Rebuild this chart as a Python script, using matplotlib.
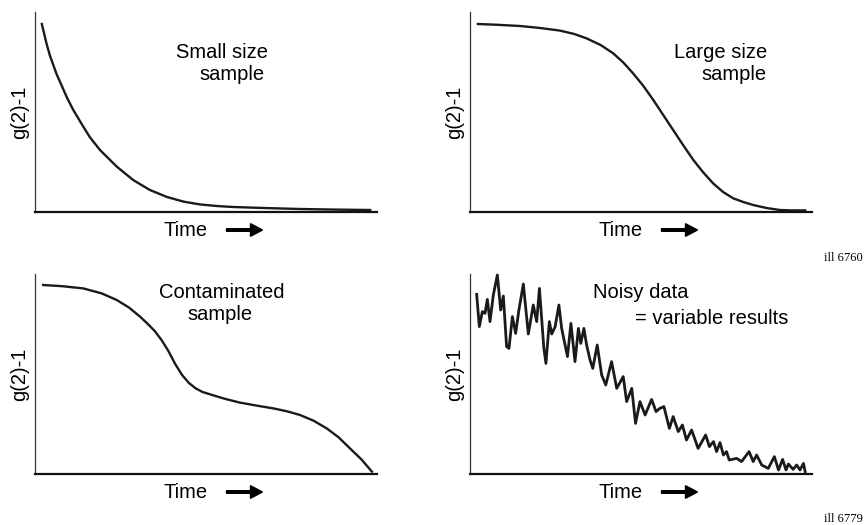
import matplotlib
matplotlib.use("Agg")
import matplotlib.pyplot as plt
from matplotlib.patches import FancyArrow

W, H = 865, 525

# curves (x: 0-100 along time axis, y: 0-100 of g(2)-1)
small_x = [2.0, 3.4, 4.4, 6.3, 9.4, 11.2, 14.0, 16.0, 19.0, 23.9, 28.7, 33.6, 38.6,
           43.4, 48.2, 53.1, 57.9, 67.0, 77.5, 88.0, 98.0]
small_y = [94, 84, 78, 69, 57, 51, 43, 37.5, 31, 22.7, 16, 11, 7.5,
           5.2, 3.8, 3.0, 2.5, 2.0, 1.5, 1.2, 1.0]

large_x = [2.3, 8.0, 14.6, 20.5, 26.3, 30.5, 34.1, 38.2, 41.9, 44.8, 47.7, 50.7, 53.6,
           56.5, 59.4, 62.3, 65.3, 68.2, 71.1, 74.0, 77.0, 79.9, 82.8, 86.7, 90.6, 94.0, 98.0]
large_y = [94, 93.6, 93, 92, 90.7, 89, 86.8, 83.5, 79.3, 74.8, 69.3, 63, 56,
           48.5, 41, 33.5, 26, 19.8, 14.3, 10.0, 6.8, 5.0, 3.5, 2.0, 1.0, 0.8, 0.8]

cont_x = [2.4, 8.0, 14.1, 19.5, 23.9, 27.5, 30.7, 33.0, 35.0, 37.0, 39.0, 41.0, 43.0,
          45.0, 47.0, 49.0, 52.0, 55.5, 59.9, 64.8, 69.7, 73.8, 77.5, 81.5, 85.3, 88.8,
          92.1, 95.5, 98.5]
cont_y = [94.5, 93.9, 92.8, 90.3, 87, 83.2, 78.7, 75.0, 71.5, 67, 61.5, 55, 49.5,
          45.5, 42.8, 41.0, 39.4, 37.6, 35.7, 34.2, 32.8, 31.3, 29.5, 26.6, 22.8, 18.3,
          12.8, 7.2, 1.2]

noisy_x = [1.95, 2.73, 3.61, 4.39, 5.07, 5.85, 6.82, 8.0, 8.97, 9.75, 10.7, 11.4, 12.4,
           13.35, 14.3, 15.6, 17.05, 18.5, 19.5, 20.3, 21.6, 22.2, 23.2, 23.9, 24.9, 26.0,
           26.8, 28.5, 29.5, 30.7, 31.7, 32.4, 33.3, 34.1, 35.1, 35.9, 37.2, 38.5, 39.7,
           41.4, 42.9, 44.8, 45.8, 47.3, 48.4, 49.7, 51.2, 53.1, 54.4, 55.5, 56.7, 58.3,
           59.4, 60.9, 62.1, 63.3, 64.8, 66.7, 68.9, 70.0, 71.2, 72.1, 73.1, 74.1, 75.0,
           75.8, 78.0, 79.4, 81.6, 82.8, 83.8, 85.3, 87.2, 89.0, 90.2, 91.4, 92.4, 93.1,
           94.5, 95.5, 96.5, 97.5, 98.0]
noisy_y = [89.8, 73.7, 81.2, 80.3, 87.3, 76.2, 89.5, 99.5, 82, 89, 63.7, 62.8, 78.7,
           70.3, 82, 95, 70, 84.5, 76.2, 92.8, 62.8, 55.3, 76.2, 70, 73.7, 84.5,
           72.8, 58.7, 75.3, 56.2, 72.8, 65.3, 72.8, 64.5, 57, 52.8, 64.5, 49.5, 44.5,
           56.2, 42.8, 48.7, 36.2, 42.8, 25.3, 36.2, 29.5, 37.3, 31.2, 32.8, 33.7, 22.8,
           28.7, 21.2, 24.5, 17, 22, 12.8, 19.5, 13.7, 16.2, 11.2, 15.7, 9.5, 11.2,
           7, 7.8, 6.2, 11.2, 6.2, 9.5, 4.5, 2.8, 8.7, 2, 7.3, 2, 5,
           2.3, 4.5, 2, 5.3, 1.2]

panels = [
    # (left, top, right, bottom) in pixels, data, line width
    ((35, 12, 377, 212), small_x, small_y, 1.7),
    ((470, 12, 812, 212), large_x, large_y, 1.7),
    ((35, 274, 377, 474), cont_x, cont_y, 1.7),
    ((470, 274, 812, 474), noisy_x, noisy_y, 2.0),
]


def fx(px):
    return px / W


def fy(py):
    return 1 - py / H


plt.rcParams['font.family'] = ['Liberation Sans', 'DejaVu Sans']
fig = plt.figure(figsize=(W / 100, H / 100), dpi=100)
fs = 14.5

for (l, t, r, b), xs, ys, lw in panels:
    ax = fig.add_axes([fx(l), fy(b), (r - l) / W, (b - t) / H])
    ax.plot(xs, ys, color='#1a1a1a', lw=lw, clip_on=False)
    ax.set_xlim(0, 100)
    ax.set_ylim(0, 100)
    ax.set_xticks([])
    ax.set_yticks([])
    ax.spines['top'].set_visible(False)
    ax.spines['right'].set_visible(False)
    ax.spines['left'].set_linewidth(0.9)
    ax.spines['left'].set_color('#333333')
    ax.spines['bottom'].set_linewidth(1.6)
    ax.spines['bottom'].set_color('#111111')

    # y label
    fig.text(fx(l - 15), fy((t + b) / 2), 'g(2)-1', rotation=90, ha='center', va='center',
             fontsize=fs)
    # Time label with arrow
    tx = l + (r - l) * 0.44
    fig.text(fx(tx), fy(b + 18), 'Time', ha='center', va='center', fontsize=fs)
    fig.patches.append(FancyArrow(
        fx(tx + 41), fy(b + 18), fx(36), 0, width=0.005, head_width=0.024,
        head_length=fx(12), length_includes_head=True, color='black',
        transform=fig.transFigure, figure=fig))

fig.text(fx(222), fy(52), 'Small size', ha='center', va='center', fontsize=fs)
fig.text(fx(232), fy(74), 'sample', ha='center', va='center', fontsize=fs)
fig.text(fx(767), fy(52), 'Large size', ha='right', va='center', fontsize=fs)
fig.text(fx(767), fy(74), 'sample', ha='right', va='center', fontsize=fs)
fig.text(fx(222), fy(292), 'Contaminated', ha='center', va='center', fontsize=fs)
fig.text(fx(220), fy(315), 'sample', ha='center', va='center', fontsize=fs)
fig.text(fx(593), fy(293), 'Noisy data', ha='left', va='center', fontsize=fs)
fig.text(fx(788), fy(318), '= variable results', ha='right', va='center', fontsize=fs)

fig.text(fx(863), fy(258), 'ill 6760', ha='right', va='center', fontsize=9,
         family=['Liberation Serif', 'DejaVu Serif'])
fig.text(fx(863), fy(519), 'ill 6779', ha='right', va='center', fontsize=9,
         family=['Liberation Serif', 'DejaVu Serif'])

fig.savefig('out.png', dpi=100)
